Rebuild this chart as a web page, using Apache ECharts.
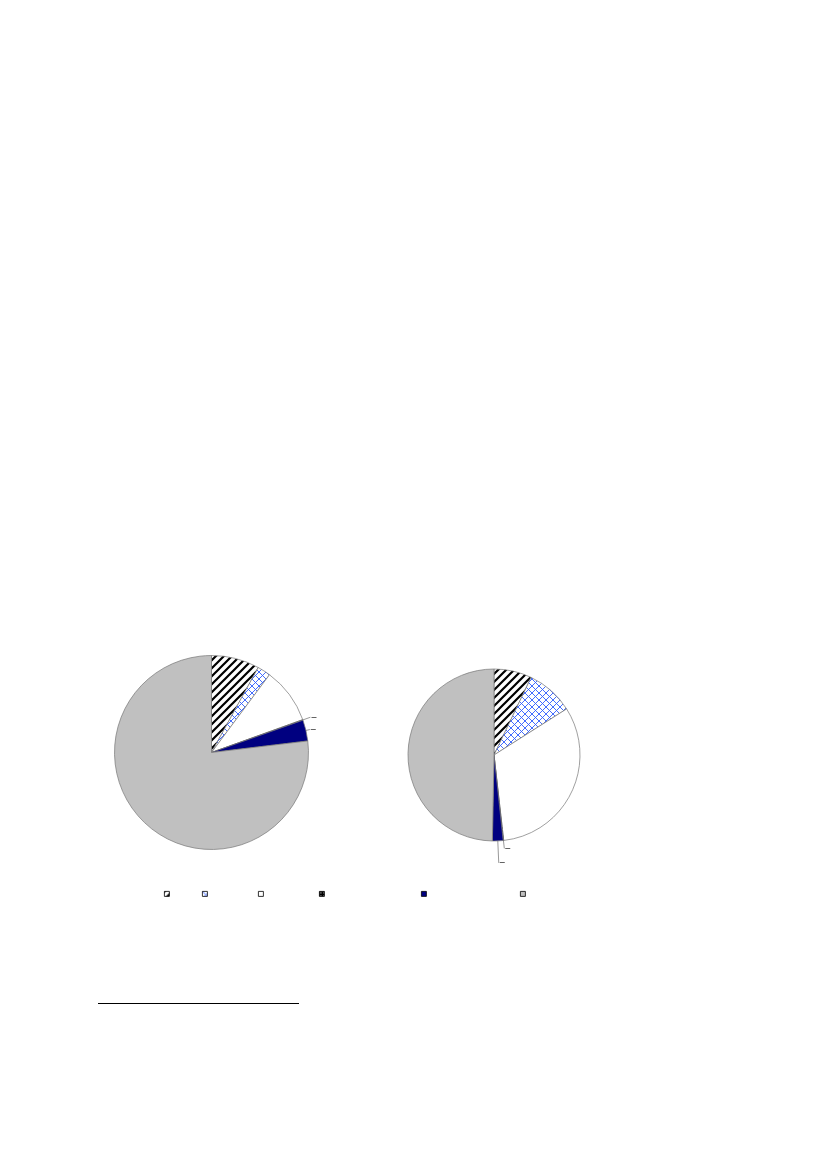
<!doctype html>
<html>
<head>
<meta charset="utf8">
<title>Pie charts</title>
<script src="https://cdn.jsdelivr.net/npm/echarts@6/dist/echarts.min.js"></script>
<style>
body { margin: 0; background: #fff; }
#main { width: 826px; height: 1169px; }
</style>
</head>
<body>
<div id="main"></div>
<script>
// slice names (legend order) and shares in percent
var categories = ['Category 1', 'Category 2', 'Category 3', 'Category 4', 'Category 5', 'Category 6'];
var valuesLeft = [8.0, 2.2, 9.3, 0.1, 3.5, 76.9];
var valuesRight = [7.1, 8.9, 32.2, 0.1, 2.0, 49.7];

// layout
var legendLeft = [164, 202, 258, 319, 421, 520];

function makeCanvas(w, h) {
    var c = document.createElement('canvas');
    c.width = w; c.height = h;
    return c;
}

function stripes() {
    var c = makeCanvas(8, 8), g = c.getContext('2d');
    g.fillStyle = '#fff'; g.fillRect(0, 0, 8, 8);
    g.strokeStyle = '#000'; g.lineWidth = 2.2;
    g.beginPath();
    g.moveTo(0, 8); g.lineTo(8, 0);
    g.moveTo(-2, 2); g.lineTo(2, -2);
    g.moveTo(6, 10); g.lineTo(10, 6);
    g.stroke();
    return { image: c, repeat: 'repeat' };
}

function crossHatch() {
    var c = makeCanvas(7, 7), g = c.getContext('2d');
    g.fillStyle = '#fff'; g.fillRect(0, 0, 7, 7);
    g.strokeStyle = '#2f5cff'; g.lineWidth = 0.9;
    g.beginPath();
    g.moveTo(0, 0); g.lineTo(7, 7);
    g.moveTo(0, 7); g.lineTo(7, 0);
    g.stroke();
    return { image: c, repeat: 'repeat' };
}

function dots() {
    var c = makeCanvas(3, 3), g = c.getContext('2d');
    g.fillStyle = '#000'; g.fillRect(0, 0, 3, 3);
    g.fillStyle = '#fff'; g.fillRect(1, 1, 1, 1);
    return { image: c, repeat: 'repeat' };
}

var fills = [stripes(), crossHatch(), '#ffffff', dots(), '#000080', '#c0c0c0'];

function buildData(values, lineLens) {
    return values.map(function (v, i) {
        var d = { name: categories[i], value: v, itemStyle: { color: fills[i] } };
        if (i === 3 || i === 4) {
            d.label = { show: true };
            d.labelLine = { show: true, length: lineLens[i - 3], length2: 0 };
        }
        return d;
    });
}

var pieBase = {
    type: 'pie',
    startAngle: 90,
    clockwise: true,
    animation: false,
    avoidLabelOverlap: false,
    itemStyle: { borderColor: '#777', borderWidth: 0.7 },
    label: {
        show: false,
        formatter: '\u2013',
        color: '#000',
        fontSize: 9,
        fontFamily: 'Liberation Sans',
        distanceToLabelLine: 1
    },
    labelLine: { lineStyle: { color: '#999', width: 1 } },
    emphasis: { disabled: true }
};

var series = [
    Object.assign({}, pieBase, {
        center: [211.5, 752.5],
        radius: 97,
        data: buildData(valuesLeft, [8, 4])
    }),
    Object.assign({}, pieBase, {
        center: [494, 755],
        radius: 86,
        data: buildData(valuesRight, [8, 22])
    })
];

var legends = categories.map(function (name, i) {
    return {
        data: [name],
        left: legendLeft[i],
        top: 891,
        padding: 0,
        itemWidth: 5,
        itemHeight: 5,
        icon: 'rect',
        itemStyle: { borderColor: '#000', borderWidth: 0.8 },
        formatter: function () { return ''; },
        textStyle: { fontSize: 5, lineHeight: 5 },
        selectedMode: false
    };
});

var chart = echarts.init(document.getElementById('main'), null, { renderer: 'canvas' });
chart.setOption({
    backgroundColor: '#fff',
    animation: false,
    legend: legends,
    series: series,
    graphic: [{
        type: 'line',
        shape: { x1: 98, y1: 1003.5, x2: 299, y2: 1003.5 },
        style: { stroke: '#000', lineWidth: 1 }
    }]
});
</script>
</body>
</html>
